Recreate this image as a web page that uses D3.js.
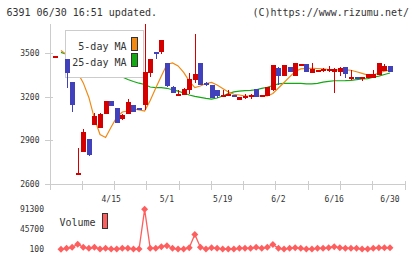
<!DOCTYPE html>
<html>
<head>
<meta charset="utf-8">
<script src="https://cdn.jsdelivr.net/npm/d3@7"></script>
<style>
  body { margin: 0; background: #fff; }
  svg text { font-family: "DejaVu Sans Mono", monospace; fill: #333; }
</style>
</head>
<body>
<svg id="chart" width="420" height="259"></svg>
<script>
// x labels sit on these trading-day indices
const tickIdx = [10, 20, 30, 40, 50, 60];
const tickLabels = ['4/15', '5/1', '5/19', '6/2', '6/16', '6/30'];
const priceTicks = [2600, 2900, 3200, 3500];
const volTicks = [100, 45700, 91300];

// daily OHLC (index 1 has no candle drawn)
const open = [3475, null, 3459, 3303, 2665, 2822, 2909, 3005, 2987, 3083,
  3170, 3122, 3044, 3083, 3143, 3124, 3143, 3365, 3505, 3510,
  3430, 3265, 3207, 3210, 3246, 3315, 3432, 3292, 3281, 3246,
  3207, 3210, 3214, 3177, 3196, 3196, 3253, 3200, 3205, 3246,
  3395, 3342, 3402, 3345, 3420, 3425, 3365, 3377, 3377, 3384,
  3365, 3368, 3404, 3322, 3336, 3320, 3329, 3329, 3349, 3377, 3411];
const high = [3482, null, 3459, 3303, 2849, 2976, 2909, 3086, 3085, 3170,
  3170, 3122, 3078, 3182, 3143, 3124, 3700, 3459, 3505, 3590,
  3430, 3274, 3246, 3262, 3361, 3631, 3432, 3300, 3281, 3246,
  3246, 3246, 3214, 3196, 3219, 3219, 3253, 3212, 3269, 3418,
  3405, 3418, 3402, 3432, 3427, 3425, 3434, 3384, 3398, 3411,
  3395, 3406, 3404, 3384, 3336, 3336, 3354, 3384, 3434, 3425, 3411];
const low = [3475, null, 3257, 3097, 2663, 2822, 2792, 3005, 2985, 3083,
  3136, 3017, 3040, 3083, 3097, 3115, 3110, 3333, 3457, 3492,
  3269, 3224, 3207, 3210, 3219, 3292, 3281, 3276, 3189, 3192,
  3205, 3205, 3200, 3177, 3187, 3182, 3197, 3200, 3205, 3240,
  3281, 3342, 3370, 3345, 3420, 3372, 3365, 3377, 3370, 3370,
  3224, 3345, 3331, 3315, 3327, 3310, 3329, 3329, 3349, 3377, 3372];
const close = [3480, null, 3365, 3143, 2675, 2957, 2799, 3069, 3081, 3170,
  3136, 3017, 3074, 3165, 3097, 3115, 3372, 3459, 3496, 3590,
  3269, 3224, 3217, 3251, 3320, 3356, 3281, 3276, 3189, 3205,
  3214, 3219, 3200, 3196, 3205, 3210, 3197, 3212, 3269, 3418,
  3342, 3418, 3370, 3432, 3427, 3372, 3391, 3384, 3393, 3391,
  3388, 3395, 3356, 3336, 3327, 3336, 3354, 3356, 3434, 3411, 3372];

// moving averages as drawn
const ma5 = [null, 3518, 3490, 3430, 3365, 3295, 3195, 3050, 2940, 2920,
  2992, 3060, 3095, 3102, 3116, 3109, 3102, 3174, 3260, 3342,
  3422, 3432, 3412, 3367, 3308, 3263, 3274, 3291, 3298, 3281,
  3257, 3233, 3217, 3212, 3205, 3205, 3205, 3205, 3205, 3222,
  3260, 3298, 3336, 3373, 3391, 3395, 3395, 3394, 3391, 3387,
  3384, 3384, 3384, 3382, 3372, 3361, 3349, 3349, 3363, 3375, 3384];
const ma25 = [null, 3505, 3492, 3478, 3462, 3446, 3428, 3410, 3392, 3375,
  3360, 3348, 3336, 3318, 3305, 3293, 3284, 3267, 3263, 3262,
  3258, 3248, 3238, 3226, 3212, 3203, 3196, 3189, 3184, 3191,
  3205, 3222, 3233, 3239, 3242, 3244, 3248, 3257, 3265, 3277,
  3288, 3292, 3292, 3292, 3292, 3288, 3288, 3292, 3300, 3305,
  3310, 3310, 3311, 3313, 3317, 3322, 3325, 3334, 3342, 3353, 3363];

const volume = [null, 100, 2400, 4700, 11500, 4700, 2400, 4700, 800, 2400,
  800, 800, 2400, 2400, 800, 800, 91300, 2400, 2400, 6000,
  8300, 2400, 800, 800, 3500, 34000, 4700, 800, 3500, 2400,
  800, 800, 800, 2400, 2400, 2400, 4700, 2400, 4700, 11000,
  2400, 800, 2400, 3500, 2400, 800, 800, 2400, 2400, 3500,
  6000, 3500, 2400, 2400, 2400, 800, 800, 2400, 3500, 3500, 3500];

const colUp = '#d40000', colDown = '#4141bb';
const colMa5 = '#f08a14', colMa25 = '#14a814';
const colVol = '#ff5e5e', colAxis = '#cccccc';

const svg = d3.select('#chart');
const x = d3.scaleLinear().domain([0, 60]).range([55.4, 390]);
const y = d3.scaleLinear().domain([2600, 3700]).range([184, 24]);
const yVol = d3.scaleLinear().domain([100, 91300]).range([249.3, 209.3]);
const frame = d3.scaleLinear().domain([0, 11]).range([50, 405]);

// header
svg.append('text').attr('x', 6.5).attr('y', 15.5)
  .style('font-size', '10px').text('6391 06/30 16:51 updated.');
svg.append('text').attr('x', 409).attr('y', 15.5).attr('text-anchor', 'end')
  .style('font-size', '10px').text('(C)https://www.rizumu.net/');

// axes
let axes = svg.append('g').attr('shape-rendering', 'crispEdges');
axes.append('line').attr('x1', 50).attr('x2', 50).attr('y1', 24).attr('y2', 190)
  .attr('stroke', colAxis);
axes.append('line').attr('x1', 50).attr('x2', 405).attr('y1', 184).attr('y2', 184)
  .attr('stroke', colAxis);
axes.selectAll('.xtick')
  .data(d3.range(1, 12))
  .join('line')
  .classed('xtick', true)
  .attr('x1', (d) => frame(d)).attr('x2', (d) => frame(d))
  .attr('y1', 181).attr('y2', 190)
  .attr('stroke', colAxis);
axes.selectAll('.ytick')
  .data(priceTicks)
  .join('line')
  .classed('ytick', true)
  .attr('x1', 45).attr('x2', 53)
  .attr('y1', (d) => Math.round(y(d)) + 0.5).attr('y2', (d) => Math.round(y(d)) + 0.5)
  .attr('stroke', colAxis);

svg.selectAll('.ylabel')
  .data(priceTicks)
  .join('text')
  .classed('ylabel', true)
  .attr('x', 39.5).attr('y', (d) => y(d))
  .attr('dy', '0.35em').attr('text-anchor', 'end')
  .style('font-size', '8px')
  .text((d) => d);

svg.selectAll('.xlabel')
  .data(tickIdx)
  .join('text')
  .classed('xlabel', true)
  .attr('x', (d) => x(d)).attr('y', 201.5)
  .attr('text-anchor', 'middle')
  .style('font-size', '8px')
  .text((d, i) => tickLabels[i]);

// moving averages
const maLine = d3.line()
  .defined((d) => d != null)
  .x((d, i) => x(i))
  .y((d) => y(d));
svg.append('path').datum(ma25).attr('d', maLine)
  .attr('fill', 'none').attr('stroke', colMa25).attr('stroke-width', 1.2);
svg.append('path').datum(ma5).attr('d', maLine)
  .attr('fill', 'none').attr('stroke', colMa5).attr('stroke-width', 1.2);

// legend
let legend = svg.append('g').attr('shape-rendering', 'crispEdges');
legend.append('rect').attr('x', 65.5).attr('y', 30.5).attr('width', 78).attr('height', 47)
  .attr('fill', '#fff').attr('stroke', colAxis);
legend.selectAll('.legend-item')
  .data([{ name: '5-day MA', color: colMa5 }, { name: '25-day MA', color: colMa25 }])
  .join('g')
  .classed('legend-item', true)
  .attr('transform', (d, i) => `translate(0, ${i * 16})`)
  .call((g) => g.append('text')
    .attr('x', 126.5).attr('y', 50)
    .attr('text-anchor', 'end')
    .style('font-size', '10px')
    .text((d) => d.name))
  .call((g) => g.append('rect')
    .attr('x', 131.5).attr('y', 37.5).attr('width', 6).attr('height', 12.5)
    .attr('fill', (d) => d.color).attr('stroke', '#333'));

// candles
svg.append('clipPath').attr('id', 'plot-clip')
  .append('rect').attr('x', 50).attr('y', 24).attr('width', 355).attr('height', 160);
const days = d3.range(open.length).filter((i) => open[i] != null);
let candles = svg.append('g')
  .attr('clip-path', 'url(#plot-clip)')
  .attr('shape-rendering', 'crispEdges');
candles.selectAll('.candle')
  .data(days)
  .join('g')
  .classed('candle', true)
  .attr('fill', (i) => (close[i] >= open[i] ? colUp : colDown))
  .attr('stroke', (i) => (close[i] >= open[i] ? colUp : colDown))
  .call((g) => g.append('line')
    .attr('x1', (i) => Math.round(x(i)) + 0.5).attr('x2', (i) => Math.round(x(i)) + 0.5)
    .attr('y1', (i) => y(high[i])).attr('y2', (i) => y(low[i])))
  .call((g) => g.append('rect')
    .attr('stroke', 'none')
    .attr('x', (i) => Math.round(x(i)) - 2)
    .attr('width', 5)
    .attr('y', (i) => Math.round(y(Math.max(open[i], close[i]))))
    .attr('height', (i) => Math.max(1.5, Math.abs(y(open[i]) - y(close[i])))));

// volume
svg.selectAll('.vlabel')
  .data(volTicks)
  .join('text')
  .classed('vlabel', true)
  .attr('x', 44).attr('y', (d) => yVol(d))
  .attr('dy', '0.35em').attr('text-anchor', 'end')
  .style('font-size', '8px')
  .text((d) => d);

const volLine = d3.line()
  .defined((d) => d != null)
  .x((d, i) => x(i))
  .y((d) => yVol(d));
svg.append('path').datum(volume).attr('d', volLine)
  .attr('fill', 'none').attr('stroke', colVol).attr('stroke-width', 1.3);
svg.selectAll('.vpoint')
  .data(d3.range(volume.length).filter((i) => volume[i] != null))
  .join('path')
  .classed('vpoint', true)
  .attr('d', d3.symbol(d3.symbolSquare, 24))
  .attr('transform', (i) => `translate(${x(i)}, ${yVol(volume[i])}) rotate(45)`)
  .attr('fill', colVol);

svg.append('text').attr('x', 59.5).attr('y', 225.5)
  .style('font-size', '10px').text('Volume');
svg.append('rect').attr('x', 102).attr('y', 213.5).attr('width', 5.5).attr('height', 14.5)
  .attr('fill', colVol).attr('stroke', '#333').attr('shape-rendering', 'crispEdges');
</script>
</body>
</html>
